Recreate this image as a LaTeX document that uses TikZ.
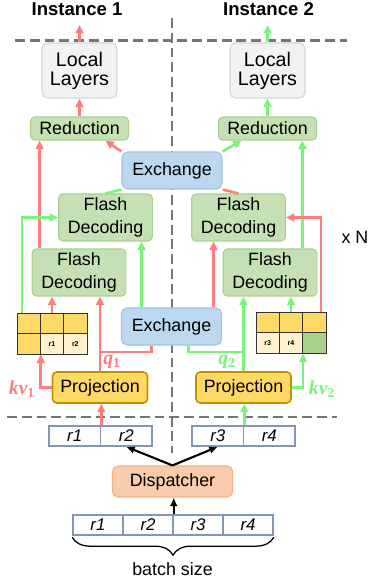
\documentclass[tikz,border=0pt]{standalone}
\usepackage{fontspec}
\setmainfont{Liberation Sans}
\newfontfamily\kvfont{Liberation Serif}
\usetikzlibrary{arrows.meta,decorations.pathreplacing}

\definecolor{kvred}{RGB}{255,125,125}
\definecolor{kvgreen}{RGB}{120,245,120}
\definecolor{localfill}{RGB}{242,242,242}
\definecolor{localdraw}{RGB}{215,215,215}
\definecolor{gfill}{RGB}{197,224,180}
\definecolor{gdraw}{RGB}{169,209,142}
\definecolor{exfill}{RGB}{189,215,238}
\definecolor{exdraw}{RGB}{157,195,230}
\definecolor{projfill}{RGB}{255,217,102}
\definecolor{projdraw}{RGB}{191,144,0}
\definecolor{dispfill}{RGB}{248,203,173}
\definecolor{dispdraw}{RGB}{244,177,131}
\definecolor{cream}{RGB}{255,242,204}
\definecolor{reqdraw}{RGB}{132,151,176}
\definecolor{sepgray}{RGB}{118,118,118}

\begin{document}
\begin{tikzpicture}[x=0.025cm, y=-0.025cm,
                    every node/.style={font=\fontsize{12.7}{16}\selectfont},
                    box node/.style={rectangle, draw, rounded corners=3pt, line width=0.8pt, inner sep=0pt, align=center},
                    local node/.style={box node, fill=localfill, draw=localdraw, rounded corners=4pt,
                                       minimum width=1.875cm, minimum height=1.375cm, font=\fontsize{14}{13.5}\selectfont},
                    reduce node/.style={box node, fill=gfill, draw=gdraw, minimum width=2.45cm, minimum height=0.575cm},
                    flash node/.style={box node, fill=gfill, draw=gdraw, minimum width=2.34cm, minimum height=1.175cm},
                    ex node/.style={box node, fill=exfill, draw=exdraw, rounded corners=4pt, minimum width=2.5cm, minimum height=0.925cm},
                    proj node/.style={box node, fill=projfill, draw=projdraw, line width=1.1pt, minimum width=2.375cm, minimum height=0.775cm},
                    disp node/.style={box node, fill=dispfill, draw=dispdraw, rounded corners=4pt, minimum width=3cm, minimum height=0.775cm},
                    cell node/.style={rectangle, draw=black!80, line width=0.6pt, minimum width=0.583cm, minimum height=0.51cm,
                                      inner sep=0pt, font=\fontsize{5}{6}\selectfont\bfseries},
                    req node/.style={rectangle, draw=reqdraw, fill=white, line width=1.1pt, minimum width=1.2875cm, minimum height=0.5cm,
                                     inner sep=0pt, font=\fontsize{12}{13}\selectfont\itshape},
                    label node/.style={font=\fontsize{14}{15}\selectfont\kvfont\bfseries\itshape},
                    dash line/.style={draw=sepgray, line width=1.5pt, dash pattern=on 7pt off 3.5pt},
                    red line/.style={draw=kvred, line width=1.8pt},
                    green line/.style={draw=kvgreen, line width=1.8pt},
                    red arrow/.style={red line, -{Triangle[length=6pt,width=5.5pt]}},
                    green arrow/.style={green line, -{Triangle[length=6pt,width=5.5pt]}},
                    black arrow/.style={draw=black, line width=1.5pt, -{Latex[length=6pt,width=5.5pt]}}]

  \useasboundingbox (0,0) rectangle (370,584);

  % separators
  \draw[dash line] (15,40.5) -- (347,40.5);
  \draw[dash line] (172,18) -- (172,453);
  \draw[dash line] (7,417) -- (337,417);

  \node[font=\fontsize{13.2}{14}\selectfont\bfseries, anchor=base] (T1) at (77,16) {Instance 1};
  \node[font=\fontsize{13.2}{14}\selectfont\bfseries, anchor=base] (T2) at (268.5,16) {Instance 2};

  % instance 1
  \node[local node] (L1) at (79.5,70.5) {Local\\Layers};
  \node[reduce node] (R1) at (79.5,128.5) {Reduction};
  \node[flash node] (FA1) at (105.5,217.5) {Flash\\Decoding};
  \node[flash node] (FB1) at (79,272.5) {Flash\\Decoding};
  \node[proj node] (P1) at (100,387.5) {Projection};

  \node[cell node, fill=projfill] (K11) at (28.67,323.25) {};
  \node[cell node, fill=projfill] (K12) at (52,323.25) {};
  \node[cell node, fill=projfill] (K13) at (75.33,323.25) {};
  \node[cell node, fill=projfill] (K21) at (28.67,343.75) {};
  \node[cell node, fill=cream] (K22) at (52,343.75) {r1};
  \node[cell node, fill=cream] (K23) at (75.33,343.75) {r2};

  % shared
  \node[ex node] (X1) at (172,170.5) {Exchange};
  \node[ex node] (X2) at (171.5,326.5) {Exchange};

  % instance 2
  \node[local node] (L2) at (267.5,70.5) {Local\\Layers};
  \node[reduce node] (R2) at (267.5,128.5) {Reduction};
  \node[flash node] (FA2) at (238.5,217.5) {Flash\\Decoding};
  \node[flash node] (FB2) at (270,272.5) {Flash\\Decoding};
  \node[proj node] (P2) at (243.5,387.5) {Projection};

  \node[cell node, fill=projfill] (M11) at (267.67,323) {};
  \node[cell node, fill=projfill] (M12) at (291,323) {};
  \node[cell node, fill=projfill] (M13) at (314.33,323) {};
  \node[cell node, fill=cream] (M21) at (267.67,343) {r3};
  \node[cell node, fill=cream] (M22) at (291,343) {r4};
  \node[cell node, fill=gdraw] (M23) at (314.33,343) {};

  \node (xN) at (355,237) {x N};

  \node[label node, text=kvred] (kv1) at (22,389) {kv\textsubscript{\upshape 1}};
  \node[label node, text=kvred] (q1) at (112,362) {q\textsubscript{\upshape 1}};
  \node[label node, text=kvgreen] (q2) at (227,362) {q\textsubscript{\upshape 2}};
  \node[label node, text=kvgreen] (kv2) at (322,389) {kv\textsubscript{\upshape 2}};

  % requests
  \node[req node] (a1) at (74.75,436) {r1};
  \node[req node] (a2) at (126.25,436) {r2};
  \node[req node] (a3) at (217.75,436) {r3};
  \node[req node] (a4) at (269.25,436) {r4};
  \node[disp node] (D) at (172.5,481.5) {Dispatcher};
  \node[req node, minimum width=1.25cm] (b1) at (98,525) {r1};
  \node[req node, minimum width=1.25cm] (b2) at (148,525) {r2};
  \node[req node, minimum width=1.25cm] (b3) at (198,525) {r3};
  \node[req node, minimum width=1.25cm] (b4) at (248,525) {r4};
  \node (bs) at (172.5,569) {batch size};

  \coordinate (o1) at (79.5,25);
  \coordinate (o2) at (267.5,25);

  % instance 1 flow
  \draw[red arrow] (L1) -- (o1);
  \draw[red arrow] (R1) -- (L1);
  \draw[red arrow] ([xshift=0.2cm]FB1.north west) -- ([xshift=0.2cm]FB1.north west |- R1.south);
  \draw[red arrow] (X1.north west) -- (R1.-25);
  \draw[green line] (FA1.north) -- (X1.south west);
  \draw[green arrow] ([xshift=-0.17cm]K11.north) |- (FA1.west);
  \draw[red arrow] (K12.north) -- (K12.north |- FB1.south);
  \draw[red arrow] (P1.west) -| (K21.south east);
  \draw[red arrow] (P1.north) -- (P1.north |- FB1.south);
  \draw[red line] ([xshift=-0.5cm]X2.south) |- ([yshift=0.475cm]P1.north);
  \draw[green arrow] ([xshift=-0.75cm]X2.north) -- ([xshift=-0.75cm]X2.north |- FA1.south);

  % instance 2 flow
  \draw[green arrow] (L2) -- (o2);
  \draw[green arrow] (R2) -- (L2);
  \draw[green arrow] ([xshift=-0.375cm]FB2.north east) -- ([xshift=-0.375cm]FB2.north east |- R2.south);
  \draw[green arrow] (X1.north east) -- (R2.-155);
  \draw[red line] (FA2.north) -- (X1.south east);
  \draw[red arrow] ([xshift=0.17cm]M13.north) |- (FA2.east);
  \draw[green arrow] (M12.north) -- (M12.north |- FB2.south);
  \draw[green arrow] (P2.east) -| (M22.south east);
  \draw[green arrow] (P2.north) -- (P2.north |- FB2.south);
  \draw[green line] ([xshift=0.425cm]X2.south) |- ([yshift=0.475cm]P2.north);
  \draw[red arrow] ([xshift=1.05cm]X2.north) -- ([xshift=1.05cm]X2.north |- FA2.south);

  % dispatch
  \draw[red arrow] (a1.north east) -- (a1.north east |- P1.south);
  \draw[green arrow] (a3.north east) -- (a3.north east |- P2.south);
  \draw[black arrow] (D.north) -- (a2.south);
  \draw[black arrow] (D.north) -- (a3.south);
  \draw[black arrow] (b2.north east) -- (b2.north east |- D.south);
  \draw[decorate, decoration={brace, mirror, amplitude=0.45cm}, line width=0.9pt]
    ([yshift=-1pt]b1.south west) -- ([yshift=-1pt]b4.south east);
\end{tikzpicture}
\end{document}
